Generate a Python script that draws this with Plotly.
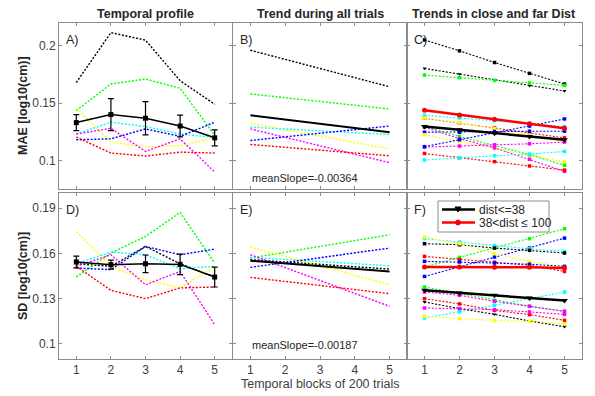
import plotly.graph_objects as go
from plotly.subplots import make_subplots

# ---------------- data ----------------
blocks = [1, 2, 3, 4, 5]
trend_x = [1, 5]

subj_colors = ["#000000", "#00ff00", "#ffff00", "#00ffff", "#ff00ff", "#0000ff", "#ff0000"]

# A) MAE temporal profile per subject (black, green, yellow, cyan, magenta, blue, red)
mae_black = [0.168, 0.2116, 0.205, 0.1696, 0.149]
mae_green = [0.1435, 0.1667, 0.171, 0.163, 0.122]
mae_yellow = [0.1458, 0.116, 0.1116, 0.113, 0.1194]
mae_cyan = [0.123, 0.1333, 0.1296, 0.123, 0.120]
mae_magenta = [0.123, 0.128, 0.1078, 0.1188, 0.0899]
mae_blue = [0.118, 0.1188, 0.1275, 0.121, 0.1333]
mae_red = [0.1203, 0.1064, 0.1038, 0.1072, 0.1064]
mae_mean = [0.133, 0.140, 0.1368, 0.130, 0.1197]
mae_err = [0.007, 0.014, 0.0145, 0.0095, 0.007]

# B) MAE linear trends (value at block 1, value at block 5)
mae_tr_black = [0.1962, 0.1643]
mae_tr_green = [0.158, 0.1449]
mae_tr_yellow = [0.1325, 0.110]
mae_tr_cyan = [0.129, 0.1226]
mae_tr_magenta = [0.1275, 0.098]
mae_tr_blue = [0.1174, 0.130]
mae_tr_red = [0.1139, 0.104]
mae_tr_mean = [0.1394, 0.1246]
mae_mean_slope = "meanSlope=-0.00364"

# C) MAE trends split by distance
mae_far_black = [0.2052, 0.1957, 0.1855, 0.176, 0.1667]
mae_close_black = [0.1803, 0.1754, 0.170, 0.1652, 0.1606]
mae_far_green = [0.1745, 0.1722, 0.1699, 0.1676, 0.1655]
mae_far_cyan = [0.1394, 0.1371, 0.1347, 0.1322, 0.1296]
mae_far_red = [0.1368, 0.1326, 0.1283, 0.124, 0.1197]
mae_far_yellow = [0.137, 0.1328, 0.1276, 0.122, 0.116]
mae_far_blue = [0.1246, 0.1246, 0.1252, 0.1255, 0.1255]
mae_close_yellow = [0.1224, 0.1164, 0.1104, 0.1044, 0.0985]
mae_close_green = [0.1296, 0.1209, 0.113, 0.105, 0.0957]
mae_far_magenta = [0.1116, 0.1125, 0.1136, 0.1145, 0.116]
mae_close_magenta = [0.129, 0.1189, 0.111, 0.101, 0.0904]
mae_close_blue = [0.112, 0.118, 0.124, 0.130, 0.1362]
mae_close_red = [0.106, 0.1023, 0.0989, 0.0951, 0.0915]
mae_close_cyan = [0.1003, 0.1023, 0.104, 0.1055, 0.1078]
mae_far_mean = [0.1437, 0.1397, 0.1359, 0.1319, 0.128]
mae_close_mean = [0.1296, 0.1267, 0.1238, 0.1209, 0.118]

# D) SD temporal profile per subject
sd_black = [0.1531, 0.1514, 0.1646, 0.1531, 0.1443]
sd_green = [0.1443, 0.1602, 0.1712, 0.1871, 0.1536]
sd_yellow = [0.1745, 0.1514, 0.1426, 0.1371, 0.1514]
sd_cyan = [0.1531, 0.1609, 0.1591, 0.1498, 0.1514]
sd_magenta = [0.1514, 0.1591, 0.1392, 0.148, 0.1128]
sd_blue = [0.1503, 0.1492, 0.1646, 0.1591, 0.1628]
sd_red = [0.1514, 0.1355, 0.130, 0.1371, 0.1377]
sd_mean = [0.1543, 0.1525, 0.1531, 0.1527, 0.1443]
sd_err = [0.0039, 0.003, 0.0058, 0.0068, 0.0066]

# E) SD linear trends
sd_tr_black = [0.1558, 0.1496]
sd_tr_green = [0.1569, 0.1723]
sd_tr_yellow = [0.1642, 0.1392]
sd_tr_cyan = [0.1573, 0.1518]
sd_tr_magenta = [0.1591, 0.1249]
sd_tr_blue = [0.1507, 0.1635]
sd_tr_red = [0.1441, 0.1333]
sd_tr_mean = [0.1551, 0.148]
sd_mean_slope = "meanSlope=-0.00187"

# F) SD trends split by distance
sd_far_green = [0.151, 0.1573, 0.1639, 0.1697, 0.1763]
sd_far_blue = [0.1447, 0.151, 0.1576, 0.1635, 0.1701]
sd_far_cyan = [0.1697, 0.1675, 0.1652, 0.163, 0.1613]
sd_far_black = [0.1664, 0.1657, 0.1635, 0.162, 0.1602]
sd_far_yellow = [0.1708, 0.1664, 0.1598, 0.1547, 0.151]
sd_far_red = [0.158, 0.1558, 0.1541, 0.1521, 0.148]
sd_far_blue2 = [0.1547, 0.1543, 0.1536, 0.1528, 0.1514]
sd_close_green = [0.1377, 0.1333, 0.1289, 0.125, 0.1216]
sd_close_cyan = [0.1172, 0.1212, 0.1256, 0.13, 0.1344]
sd_close_red = [0.13, 0.1265, 0.1222, 0.1194, 0.1156]
sd_close_black = [0.1278, 0.1234, 0.1196, 0.1152, 0.1114]
sd_close_magenta = [0.1344, 0.1322, 0.1282, 0.1249, 0.1216]
sd_close_magenta2 = [0.1238, 0.1234, 0.1227, 0.1212, 0.1196]
sd_close_yellow = [0.1183, 0.1167, 0.1156, 0.1149, 0.1134]
sd_far_mean = [0.151, 0.151, 0.1508, 0.1508, 0.1503]
sd_close_mean = [0.1355, 0.1338, 0.1322, 0.1304, 0.1287]

col_titles = ["Temporal profile", "Trend during all trials", "Trends in close and far Dist"]
panel_labels = ["A)", "B)", "C)", "D)", "E)", "F)"]
x_ticks = [1, 2, 3, 4, 5]
mae_ticks = [0.1, 0.15, 0.2]
mae_tick_text = ["0.1", "0.15", "0.2"]
sd_ticks = [0.1, 0.13, 0.16, 0.19]
sd_tick_text = ["0.1", "0.13", "0.16", "0.19"]
legend_names = ["dist<=38", "38<dist \u2264 100"]

# ---------------- figure ----------------
# The page body has an 8px default margin, so the figure is drawn 8px in from
# the window's top-left corner; positions below compensate for that.
OFF = 8
W, H = 595 - OFF, 396 - OFF


def px(x):
    return (x - OFF) / W


def py(y):
    return 1 - (y - OFF) / H


FONT = "Liberation Sans, Arial, sans-serif"
FRAME = "#8c8c8c"
TXT = "#404040"
DOT = "2px,1.6px"

fig = make_subplots(rows=2, cols=3)

xdom = [(px(59), px(232)), (px(233), px(407)), (px(407), px(582))]
ydom = [(py(189), py(23)), (py(359), py(193))]


def line(x, y, color, row, col, width=1.4, dash=DOT, marker=None, msize=4):
    mode = "lines+markers" if marker else "lines"
    fig.add_trace(go.Scatter(
        x=x, y=y, mode=mode, showlegend=False,
        line=dict(color=color, width=width, dash=dash),
        marker=dict(symbol=marker or "circle", size=msize, color=color),
        hoverinfo="skip"), row=row, col=col)


# A
mae_subj = [mae_black, mae_green, mae_yellow, mae_cyan, mae_magenta, mae_blue, mae_red]
for c, ys in zip(subj_colors, mae_subj):
    line(blocks, ys, c, 1, 1)
fig.add_trace(go.Scatter(x=blocks, y=mae_mean, mode="lines+markers", showlegend=False,
                         line=dict(color="black", width=1.5),
                         marker=dict(symbol="square", size=5, color="black"),
                         error_y=dict(type="data", array=mae_err, color="black", thickness=1.2, width=3)),
              row=1, col=1)

# B
mae_tr = [mae_tr_black, mae_tr_green, mae_tr_yellow, mae_tr_cyan, mae_tr_magenta, mae_tr_blue, mae_tr_red]
for c, ys in zip(subj_colors, mae_tr):
    line(trend_x, ys, c, 1, 2)
line(trend_x, mae_tr_mean, "black", 1, 2, width=2, dash="solid")

# C
c_lines = [
    (mae_far_black, "#000000", "square"), (mae_close_black, "#000000", "triangle-down"),
    (mae_far_green, "#00ff00", "square"), (mae_far_cyan, "#00ffff", "square"),
    (mae_far_red, "#ff0000", "square"), (mae_far_yellow, "#ffff00", "square"),
    (mae_far_blue, "#0000ff", "square"), (mae_close_yellow, "#ffff00", "square"),
    (mae_close_green, "#00ff00", "square"), (mae_far_magenta, "#ff00ff", "square"),
    (mae_close_magenta, "#ff00ff", "square"), (mae_close_blue, "#0000ff", "square"),
    (mae_close_red, "#ff0000", "square"), (mae_close_cyan, "#00ffff", "square"),
]
for ys, c, m in c_lines:
    line(blocks, ys, c, 1, 3, width=1.1, marker=m, msize=3.5)
line(blocks, mae_far_mean, "#ff0000", 1, 3, width=2.5, dash="solid", marker="circle", msize=5)
line(blocks, mae_close_mean, "#000000", 1, 3, width=2.5, dash="solid", marker="triangle-down", msize=6)

# D
sd_subj = [sd_black, sd_green, sd_yellow, sd_cyan, sd_magenta, sd_blue, sd_red]
for c, ys in zip(subj_colors, sd_subj):
    line(blocks, ys, c, 2, 1)
fig.add_trace(go.Scatter(x=blocks, y=sd_mean, mode="lines+markers", showlegend=False,
                         line=dict(color="black", width=1.5),
                         marker=dict(symbol="square", size=5, color="black"),
                         error_y=dict(type="data", array=sd_err, color="black", thickness=1.2, width=3)),
              row=2, col=1)

# E
sd_tr = [sd_tr_black, sd_tr_green, sd_tr_yellow, sd_tr_cyan, sd_tr_magenta, sd_tr_blue, sd_tr_red]
for c, ys in zip(subj_colors, sd_tr):
    line(trend_x, ys, c, 2, 2)
line(trend_x, sd_tr_mean, "black", 2, 2, width=2, dash="solid")

# F
f_lines = [
    (sd_far_green, "#00ff00", "square"), (sd_far_blue, "#0000ff", "square"),
    (sd_far_cyan, "#00ffff", "square"), (sd_far_black, "#000000", "square"),
    (sd_far_yellow, "#ffff00", "square"), (sd_far_red, "#ff0000", "square"),
    (sd_far_blue2, "#0000ff", "square"), (sd_close_green, "#00ff00", "square"),
    (sd_close_cyan, "#00ffff", "square"), (sd_close_red, "#ff0000", "square"),
    (sd_close_black, "#000000", "triangle-down"), (sd_close_magenta, "#ff00ff", "square"),
    (sd_close_magenta2, "#ff00ff", "square"), (sd_close_yellow, "#ffff00", "square"),
]
for ys, c, m in f_lines:
    line(blocks, ys, c, 2, 3, width=1.1, marker=m, msize=3.5)
line(blocks, sd_close_mean, "#000000", 2, 3, width=2.5, dash="solid", marker="triangle-down", msize=6)
line(blocks, sd_far_mean, "#ff0000", 2, 3, width=2.5, dash="solid", marker="circle", msize=5)

# axes
for r in (1, 2):
    for c in (1, 2, 3):
        idx = (r - 1) * 3 + c
        xa = "xaxis" if idx == 1 else f"xaxis{idx}"
        ya = "yaxis" if idx == 1 else f"yaxis{idx}"
        fig.layout[xa].update(
            domain=list(xdom[c - 1]), range=[0.5, 5.5], tickvals=x_ticks,
            showticklabels=(r == 2), ticks="inside", ticklen=3, tickcolor=FRAME,
            showline=True, linecolor=FRAME, linewidth=1, mirror="ticks",
            showgrid=False, zeroline=False,
            tickfont=dict(family=FONT, size=12, color=TXT))
        if r == 1:
            yr, tv, tt = [0.075, 0.22], mae_ticks, mae_tick_text
        else:
            yr, tv, tt = [0.09, 0.2], sd_ticks, sd_tick_text
        fig.layout[ya].update(
            domain=list(ydom[r - 1]), range=yr, tickvals=tv, ticktext=tt,
            showticklabels=(c == 1), ticks="inside", ticklen=3, tickcolor=FRAME,
            showline=True, linecolor=FRAME, linewidth=1, mirror="ticks",
            showgrid=False, zeroline=False,
            tickfont=dict(family=FONT, size=12, color=TXT))

ann = []
centers = [(x0 + x1) / 2 for x0, x1 in xdom]
for i, t in enumerate(col_titles):
    ann.append(dict(text=f"<b>{t}</b>", x=centers[i], y=py(14), xref="paper", yref="paper",
                    showarrow=False, font=dict(family=FONT, size=12.5, color="#262626"),
                    xanchor="center", yanchor="middle"))
for i, lab in enumerate(panel_labels):
    r, c = divmod(i, 3)
    ann.append(dict(text=lab, x=xdom[c][0] + 5 / W, y=ydom[r][1] - 17 / H, xref="paper", yref="paper",
                    showarrow=False, font=dict(family=FONT, size=12.5, color="#262626"),
                    xanchor="left", yanchor="middle"))
ann.append(dict(text=mae_mean_slope, x=px(250), y=py(178), xref="paper", yref="paper",
                showarrow=False, font=dict(family=FONT, size=11, color="#262626"),
                xanchor="left", yanchor="middle"))
ann.append(dict(text=sd_mean_slope, x=px(250), y=py(345), xref="paper", yref="paper",
                showarrow=False, font=dict(family=FONT, size=11, color="#262626"),
                xanchor="left", yanchor="middle"))
ann.append(dict(text="<b>MAE [log10(cm)]</b>", x=px(23), y=sum(ydom[0]) / 2, xref="paper", yref="paper",
                textangle=-90, showarrow=False, font=dict(family=FONT, size=12.5, color="#262626"),
                xanchor="center", yanchor="middle"))
ann.append(dict(text="<b>SD [log10(cm)]</b>", x=px(23), y=sum(ydom[1]) / 2, xref="paper", yref="paper",
                textangle=-90, showarrow=False, font=dict(family=FONT, size=12.5, color="#262626"),
                xanchor="center", yanchor="middle"))
ann.append(dict(text="Temporal blocks of 200 trials", x=centers[1], y=py(384), xref="paper", yref="paper",
                showarrow=False, font=dict(family=FONT, size=12.5, color="#404040"),
                xanchor="center", yanchor="middle"))

# legend box for panel F (drawn as shapes + text so it matches the compact MATLAB legend)
shapes = [dict(type="rect", xref="paper", yref="paper", x0=px(438), x1=px(549), y0=py(232), y1=py(201),
               line=dict(color=FRAME, width=1), fillcolor="white", layer="above")]
leg_rows = [(209.5, "#000000", "tri", legend_names[0]), (222.5, "#ff0000", "circ", legend_names[1])]
for yy, col, mk, name in leg_rows:
    shapes.append(dict(type="line", xref="paper", yref="paper", x0=px(442), x1=px(475), y0=py(yy), y1=py(yy),
                       line=dict(color=col, width=2.5), layer="above"))
    if mk == "tri":
        path = (f"M {px(455)},{py(yy - 2.5)} L {px(461)},{py(yy - 2.5)} "
                f"L {px(458)},{py(yy + 2.5)} Z")
        shapes.append(dict(type="path", xref="paper", yref="paper", path=path,
                           fillcolor=col, line=dict(color=col, width=1), layer="above"))
    else:
        shapes.append(dict(type="circle", xref="paper", yref="paper", x0=px(455.5), x1=px(460.5),
                           y0=py(yy + 2.5), y1=py(yy - 2.5),
                           fillcolor=col, line=dict(color=col, width=1), layer="above"))
    ann.append(dict(text=name, x=px(477), y=py(yy), xref="paper", yref="paper", showarrow=False,
                    font=dict(family=FONT, size=12, color="#262626"), xanchor="left", yanchor="middle"))

fig.update_layout(
    width=W, height=H, autosize=False,
    margin=dict(l=0, r=0, t=0, b=0, autoexpand=False),
    paper_bgcolor="white", plot_bgcolor="white",
    annotations=ann, shapes=shapes,
    showlegend=False,
)

fig.write_html("out.html")
